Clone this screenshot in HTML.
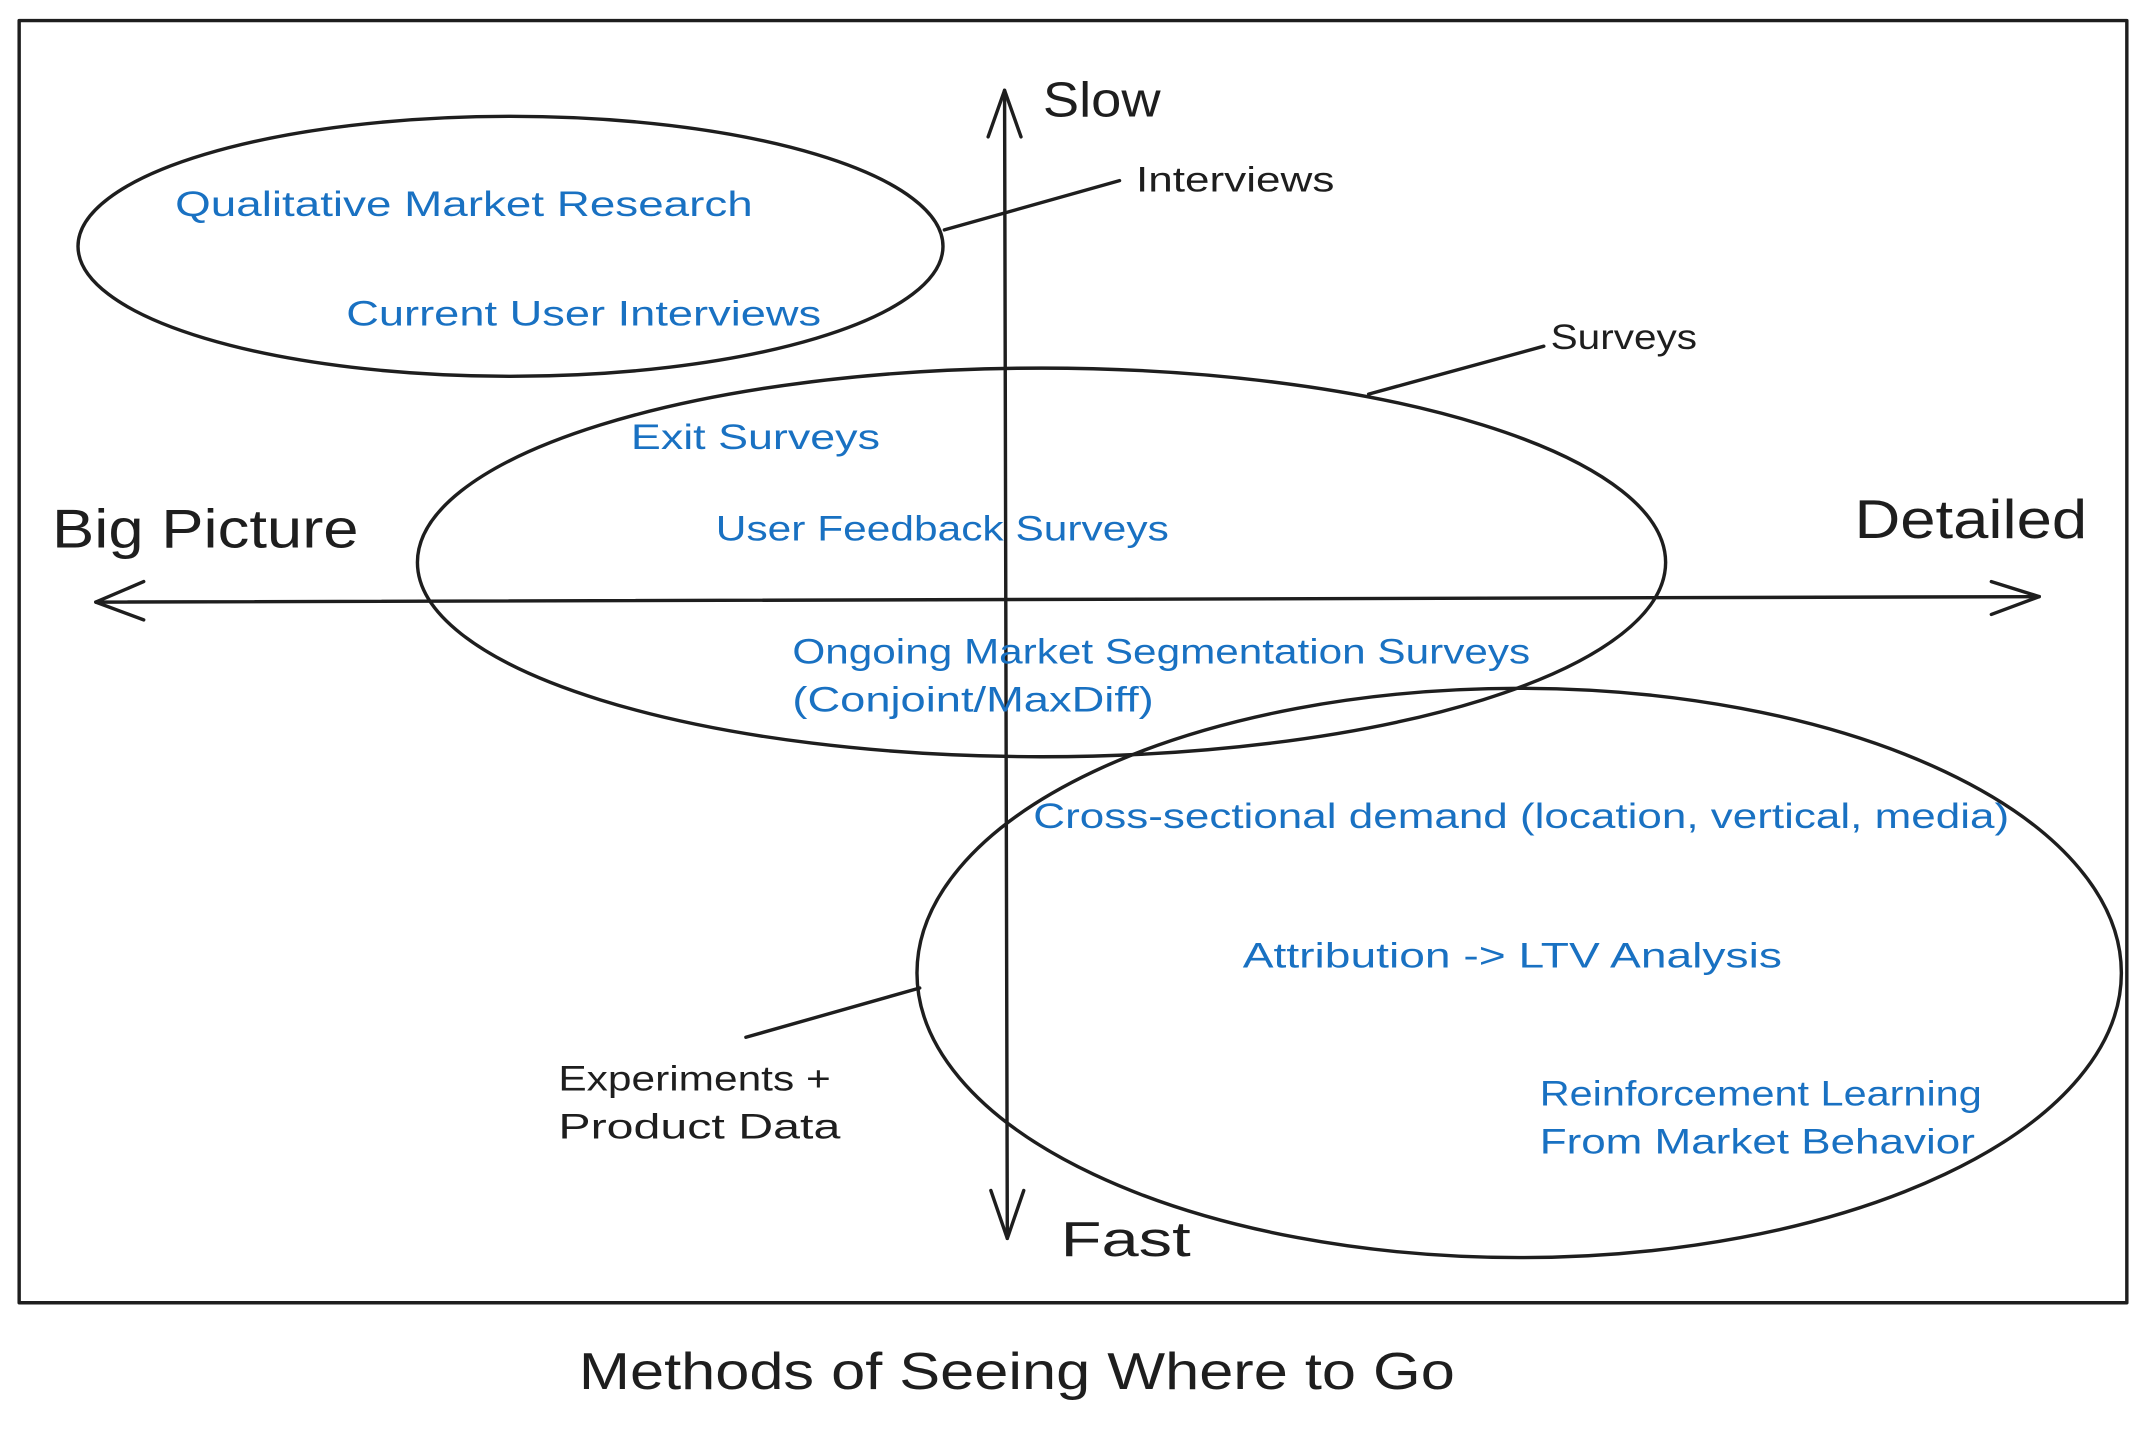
<!DOCTYPE html>
<html><head><meta charset="utf-8"><style>
html,body{margin:0;padding:0;background:#fff;}
svg{display:block;}
text{font-family:"Liberation Sans",sans-serif;}
.b{fill:#1971c2;font-size:26px;}
.k{fill:#1e1e1e;}
</style></head><body>
<svg width="2146" height="1430" viewBox="0 0 1568 1045" preserveAspectRatio="none" xmlns="http://www.w3.org/2000/svg">
<rect width="1568" height="1045" fill="#fff"/>
<g fill="none" stroke="#1e1e1e" stroke-width="2.5" stroke-linecap="round" stroke-linejoin="round">
<rect x="14" y="15" width="1540" height="937"/>
<path d="M734 66 L736 905"/>
<path d="M722 100 L734 66 L746 100"/>
<path d="M724 870 L736 905 L748 870"/>
<path d="M70 440 L1490 436"/>
<path d="M105 425 L70 440 L105 453"/>
<path d="M1455 425 L1490 436 L1455 449"/>
<ellipse cx="373" cy="180" rx="316" ry="95"/>
<path d="M690 168 L818 132"/>
<ellipse cx="761" cy="411" rx="456" ry="142"/>
<path d="M1000 288 L1128 253"/>
<ellipse cx="1110" cy="711" rx="440" ry="208"/>
<path d="M672 722 L545 758"/>
</g>
<g class="k">
<text x="762" y="85" font-size="36" textLength="86" lengthAdjust="spacingAndGlyphs">Slow</text>
<text x="775" y="918" font-size="36" textLength="95" lengthAdjust="spacingAndGlyphs">Fast</text>
<text x="38" y="400" font-size="40" textLength="224" lengthAdjust="spacingAndGlyphs">Big Picture</text>
<text x="1355" y="393" font-size="40" textLength="170" lengthAdjust="spacingAndGlyphs">Detailed</text>
<text x="830" y="140" font-size="26" textLength="145" lengthAdjust="spacingAndGlyphs">Interviews</text>
<text x="1133" y="255" font-size="26" textLength="107" lengthAdjust="spacingAndGlyphs">Surveys</text>
<text x="408" y="797" font-size="26" textLength="199" lengthAdjust="spacingAndGlyphs">Experiments +</text>
<text x="408" y="832" font-size="26" textLength="206" lengthAdjust="spacingAndGlyphs">Product Data</text>
<text x="423" y="1015" font-size="38" textLength="640" lengthAdjust="spacingAndGlyphs">Methods of Seeing Where to Go</text>
</g>
<g class="b">
<text x="128" y="158" textLength="422" lengthAdjust="spacingAndGlyphs">Qualitative Market Research</text>
<text x="253" y="238" textLength="347" lengthAdjust="spacingAndGlyphs">Current User Interviews</text>
<text x="461" y="328" textLength="182" lengthAdjust="spacingAndGlyphs">Exit Surveys</text>
<text x="523" y="395" textLength="331" lengthAdjust="spacingAndGlyphs">User Feedback Surveys</text>
<text x="579" y="485" textLength="539" lengthAdjust="spacingAndGlyphs">Ongoing Market Segmentation Surveys</text>
<text x="579" y="520" textLength="264" lengthAdjust="spacingAndGlyphs">(Conjoint/MaxDiff)</text>
<text x="755" y="605" textLength="713" lengthAdjust="spacingAndGlyphs">Cross-sectional demand (location, vertical, media)</text>
<text x="908" y="707" textLength="394" lengthAdjust="spacingAndGlyphs">Attribution -&gt; LTV Analysis</text>
<text x="1125" y="808" textLength="323" lengthAdjust="spacingAndGlyphs">Reinforcement Learning</text>
<text x="1125" y="843" textLength="318" lengthAdjust="spacingAndGlyphs">From Market Behavior</text>
</g>
</svg>
</body></html>
